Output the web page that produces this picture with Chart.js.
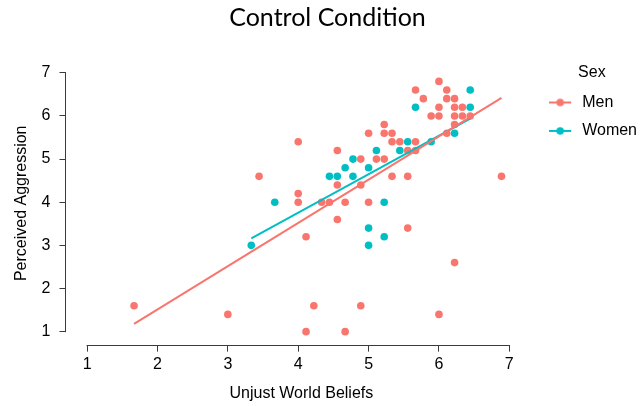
<!DOCTYPE html>
<html>
<head>
<meta charset="utf-8">
<script src="https://cdn.jsdelivr.net/npm/chart.js@4.4.1/dist/chart.umd.min.js"></script>
<style>
  html, body { margin: 0; padding: 0; background: #fff; }
</style>
</head>
<body>
<canvas id="chart" width="643" height="406"></canvas>
<script>
// Men: unjust world beliefs (x) vs perceived aggression (y)
const menX = [1.667, 3.0, 3.444, 4.0, 4.0, 4.0, 4.111, 4.111, 4.222, 4.333, 4.444,
  4.556, 4.556, 4.556, 4.667, 4.667, 4.889, 4.889, 4.889, 5.0, 5.0, 5.111,
  5.222, 5.222, 5.222, 5.333, 5.333, 5.333, 5.444, 5.556, 5.556, 5.556,
  5.667, 5.667, 5.667, 5.778, 5.889, 6.0, 6.0, 6.0, 6.0, 6.111, 6.111, 6.111,
  6.222, 6.222, 6.222, 6.222, 6.222, 6.333, 6.333, 6.444, 6.889];
const menY = [1.6, 1.4, 4.6, 5.4, 4.2, 4.0, 3.2, 1.0, 1.6, 4.0, 4.0,
  5.2, 4.4, 3.6, 4.0, 1.0, 5.0, 4.4, 1.6, 5.6, 4.0, 5.0,
  5.8, 5.6, 5.0, 5.6, 5.4, 4.6, 5.4, 5.2, 4.6, 3.4,
  6.6, 5.4, 5.2, 6.4, 6.0, 6.8, 6.2, 6.0, 1.4, 6.6, 6.4, 5.6,
  6.4, 6.2, 6.0, 5.8, 2.6, 6.2, 6.0, 6.0, 4.6];

// Women
const womenX = [3.333, 3.667, 4.444, 4.556, 4.667, 4.778, 4.778, 5.0, 5.0, 5.0,
  5.111, 5.222, 5.222, 5.444, 5.556, 5.667, 5.889, 6.222, 6.444, 6.444];
const womenY = [3.0, 4.0, 4.6, 4.6, 4.8, 5.0, 4.6, 4.8, 3.4, 3.0,
  5.2, 4.0, 3.2, 5.2, 5.4, 6.2, 5.4, 5.6, 6.6, 6.2];

// fitted lines (end points)
const menFitX = [1.667, 6.889];
const menFitY = [1.18, 6.42];
const womenFitX = [3.333, 6.444];
const womenFitY = [3.16, 5.94];

const xTicks = [1, 2, 3, 4, 5, 6, 7];
const yTicks = [1, 2, 3, 4, 5, 6, 7];

const RED = '#F8766D';
const TEAL = '#00BFC4';
const AXIS = '#3a3a3a';
const sans = 'Liberation Sans, Arial, sans-serif';

function toPoints(xs, ys) {
  return xs.map((x, i) => ({ x: x, y: ys[i] }));
}

// small line + dot icon for the legend
function legendIcon(color) {
  const c = document.createElement('canvas');
  c.width = 25;
  c.height = 10;
  const g = c.getContext('2d');
  g.strokeStyle = color;
  g.lineWidth = 2;
  g.beginPath();
  g.moveTo(0, 5);
  g.lineTo(22, 5);
  g.stroke();
  g.fillStyle = color;
  g.beginPath();
  g.arc(11, 5, 3.8, 0, Math.PI * 2);
  g.fill();
  return c;
}

// axis lines only span the first to the last tick
const axisLines = {
  id: 'axisLines',
  afterDraw(chart) {
    const { ctx, chartArea, scales: { x, y } } = chart;
    ctx.save();
    ctx.strokeStyle = AXIS;
    ctx.lineWidth = 1;
    ctx.beginPath();
    const yb = Math.round(chartArea.bottom) + 0.5;
    ctx.moveTo(x.getPixelForValue(xTicks[0]) - 0.5, yb);
    ctx.lineTo(x.getPixelForValue(xTicks[xTicks.length - 1]) + 0.5, yb);
    const xl = Math.round(chartArea.left) - 0.5;
    ctx.moveTo(xl, y.getPixelForValue(yTicks[0]) + 0.5);
    ctx.lineTo(xl, y.getPixelForValue(yTicks[yTicks.length - 1]) - 0.5);
    ctx.stroke();
    ctx.restore();
  }
};

new Chart(document.getElementById('chart'), {
  type: 'scatter',
  data: {
    datasets: [
      {
        label: 'Men fit',
        data: toPoints(menFitX, menFitY),
        showLine: true,
        borderColor: RED,
        borderWidth: 2,
        pointRadius: 0,
        order: 0
      },
      {
        label: 'Women fit',
        data: toPoints(womenFitX, womenFitY),
        showLine: true,
        borderColor: TEAL,
        borderWidth: 2,
        pointRadius: 0,
        order: 0
      },
      {
        label: 'Men',
        data: toPoints(menX, menY),
        backgroundColor: RED,
        borderWidth: 0,
        pointRadius: 3.8,
        order: 1
      },
      {
        label: 'Women',
        data: toPoints(womenX, womenY),
        backgroundColor: TEAL,
        borderWidth: 0,
        pointRadius: 3.8,
        order: 1
      }
    ]
  },
  options: {
    responsive: false,
    animation: false,
    devicePixelRatio: 1,
    layout: { padding: { left: 8, right: -4, top: 0, bottom: 0 } },
    scales: {
      x: {
        type: 'linear',
        min: 0.7,
        max: 7.39,
        afterBuildTicks: s => { s.ticks = xTicks.map(v => ({ value: v })); },
        ticks: { color: '#000', font: { family: sans, size: 16 }, padding: 3.4, autoSkip: false, maxRotation: 0 },
        grid: { drawOnChartArea: false, drawTicks: true, tickLength: 7, color: AXIS, lineWidth: 1 },
        border: { display: false },
        title: {
          display: true,
          text: 'Unjust World Beliefs',
          color: '#000',
          font: { family: sans, size: 16 },
          padding: { top: 6.5, bottom: 2.7 }
        }
      },
      y: {
        type: 'linear',
        min: 0.7,
        max: 7.25,
        afterBuildTicks: s => { s.ticks = yTicks.map(v => ({ value: v })); },
        ticks: { color: '#000', font: { family: sans, size: 16 }, padding: 9 },
        grid: { drawOnChartArea: false, drawTicks: true, tickLength: 6.5, color: AXIS, lineWidth: 1 },
        border: { display: false },
        title: {
          display: true,
          text: 'Perceived Aggression',
          color: '#000',
          font: { family: sans, size: 16 },
          padding: { top: 4.4, bottom: 1.0 }
        }
      }
    },
    plugins: {
      title: {
        display: true,
        text: 'Control Condition',
        color: '#000',
        font: { family: 'Lato, sans-serif', size: 25, weight: 'normal' },
        padding: { top: 3, bottom: 29 }
      },
      legend: {
        position: 'right',
        align: 'start',
        title: {
          display: true,
          text: 'Sex',
          color: '#000',
          font: { family: sans, size: 16 },
          padding: { top: 64.7, bottom: -1.8 }
        },
        labels: {
          color: '#000',
          font: { family: sans, size: 16 },
          usePointStyle: true,
          boxWidth: 25,
          pointStyleWidth: 25,
          padding: 12.4,
          generateLabels: () => [
            { text: 'Men', pointStyle: legendIcon(RED), fillStyle: RED, strokeStyle: RED, lineWidth: 0, hidden: false, datasetIndex: 2 },
            { text: 'Women', pointStyle: legendIcon(TEAL), fillStyle: TEAL, strokeStyle: TEAL, lineWidth: 0, hidden: false, datasetIndex: 3 }
          ]
        }
      },
      tooltip: { enabled: false }
    }
  },
  plugins: [axisLines]
});
</script>
</body>
</html>
